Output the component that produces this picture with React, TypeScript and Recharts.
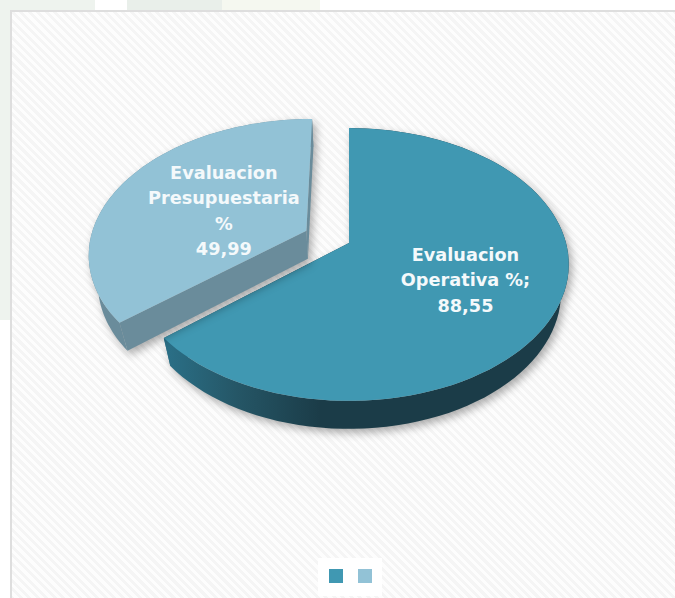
import React from "react";
import { PieChart, Pie, Legend } from "recharts";

const categories = ["Evaluacion Operativa %", "Evaluacion Presupuestaria %"];
const values = [88.55, 49.99];
const sliceColors = ["#4098b2", "#92c2d6"];
const labelLines = [
  ["Evaluacion", "Operativa %;", "88,55"],
  ["Evaluacion", "Presupuestaria", "%", "49,99"],
];

const data = categories.map((name, i) => ({ name, value: values[i], fill: sliceColors[i] }));

// look of the fake 3D pie
const wallFills = ["url(#mainWall)", "#6a8c9b"];
const explode = [0, 0.22];
const labelRadius = [0.57, 0.445];
const TILT = 133;
const PERSPECTIVE = 0.1575;
const DEPTH = 28;
const SHRINK = 0.965;
const RAD = Math.PI / 180;

// unit disk point -> screen, depth 0 is the top face and 1 the underside
const project = (cx, cy, r, X, Y, depth = 0) => {
  const s = 1 / (1 + PERSPECTIVE * Y);
  const k = depth ? SHRINK : 1;
  return [cx + r * X * s * k, cy - TILT * Y * s + depth * DEPTH];
};

const toPath = (pts) => "M" + pts.map((p) => p[0].toFixed(1) + "," + p[1].toFixed(1)).join("L") + "Z";

const Slice3D = (props) => {
  const { cx, cy, outerRadius, startAngle, endAngle, fill, midAngle, index } = props;
  const mid = midAngle ?? (startAngle + endAngle) / 2;
  const ox = explode[index] * Math.cos(mid * RAD);
  const oy = explode[index] * Math.sin(mid * RAD);
  const ring = (depth) => {
    const pts = [];
    const steps = 90;
    for (let i = 0; i <= steps; i++) {
      const a = (startAngle + ((endAngle - startAngle) * i) / steps) * RAD;
      pts.push(project(cx, cy, outerRadius, ox + Math.cos(a), oy + Math.sin(a), depth));
    }
    return pts;
  };
  const top = ring(0);
  const bottom = ring(1);
  const apex = project(cx, cy, outerRadius, ox, oy, 0);
  const apexLow = project(cx, cy, outerRadius, ox, oy, 1);
  return (
    <g style={{ filter: "drop-shadow(3px 4px 4px rgba(0,0,0,0.32))" }}>
      <path d={toPath([...top, ...bottom.slice().reverse()])} fill={wallFills[index]} />
      <path d={toPath([apex, top[0], bottom[0], apexLow])} fill={wallFills[index]} />
      <path d={toPath([apex, top[top.length - 1], bottom[bottom.length - 1], apexLow])} fill={wallFills[index]} />
      <path d={toPath([apex, ...top])} fill={fill} />
    </g>
  );
};

const SliceLabel = (props) => {
  const { cx, cy, outerRadius, midAngle, index } = props;
  const d = explode[index] + labelRadius[index];
  const [x, y] = project(cx, cy, outerRadius, d * Math.cos(midAngle * RAD), d * Math.sin(midAngle * RAD));
  const lines = labelLines[index];
  const lineHeight = 25.5;
  return (
    <text
      x={x}
      textAnchor="middle"
      fill="#f4f9fb"
      style={{ fontFamily: "'DejaVu Sans', sans-serif", fontWeight: 700, fontSize: 17.7 }}
    >
      {lines.map((t, i) => (
        <tspan key={i} x={x} y={y + 10 + (i - (lines.length - 1) / 2) * lineHeight}>
          {t}
        </tspan>
      ))}
    </text>
  );
};

const LegendSquares = ({ payload }) => (
  <div style={{ display: "flex", justifyContent: "center", gap: 15, paddingTop: 11 }}>
    {(payload || []).map((entry) => (
      <span key={entry.value} style={{ width: 14, height: 14, background: entry.color, display: "block" }} />
    ))}
  </div>
);

const strip = (left, width, background, height = 10) => (
  <div style={{ position: "absolute", left, top: 0, width, height, background }} />
);

export default function App() {
  return (
    <div
      style={{ position: "absolute", left: 0, top: 0, width: 675, height: 598, overflow: "hidden", background: "#fff" }}
    >
      {strip(0, 95, "#eef3ee")}
      {strip(127, 95, "#e9efea")}
      {strip(222, 98, "#f5f8f0")}
      {strip(0, 10, "#eef3ee", 320)}
      <div
        style={{
          position: "absolute",
          left: 10,
          top: 10,
          width: 680,
          height: 600,
          borderLeft: "2px solid #dedede",
          borderTop: "2px solid #dedede",
          backgroundColor: "#fbfbfb",
          backgroundImage: "repeating-linear-gradient(45deg, #fdfdfd 0 3px, #f5f5f5 3px 6px)",
        }}
      />
      <div style={{ position: "absolute", left: 0, top: 0 }}>
        <PieChart width={675} height={598} margin={{ top: 0, right: 0, bottom: 0, left: 0 }}>
          <defs>
            <linearGradient id="mainWall" gradientUnits="userSpaceOnUse" x1="170" y1="0" x2="320" y2="0">
              <stop offset="0" stopColor="#2a6e85" />
              <stop offset="0.45" stopColor="#255666" />
              <stop offset="1" stopColor="#1b3c48" />
            </linearGradient>
          </defs>
          <Pie
            data={data}
            dataKey="value"
            nameKey="name"
            cx={349}
            cy={243}
            outerRadius={217}
            startAngle={90}
            endAngle={-270}
            stroke="none"
            shape={Slice3D}
            label={SliceLabel}
            labelLine={false}
            isAnimationActive={false}
          />
          <Legend
            content={LegendSquares}
            wrapperStyle={{ position: "absolute", left: 318, top: 558, width: 64, height: 38, background: "#fff" }}
          />
        </PieChart>
      </div>
    </div>
  );
}
